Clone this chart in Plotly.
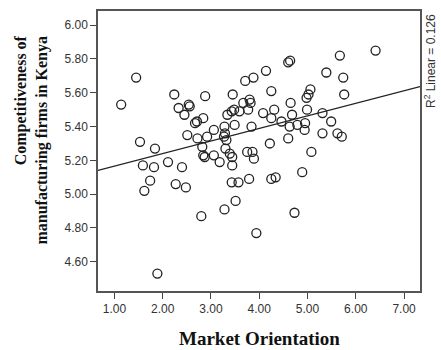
import numpy as np
import plotly.graph_objects as go

# Market Orientation (x) and Competitiveness (y)
market_orientation = [
    1.14, 1.45, 1.53, 1.84, 1.59, 1.82, 2.11, 2.40, 1.74, 1.62,
    2.27, 2.48, 1.89, 2.24, 2.88, 2.33, 2.54, 2.56, 2.45, 2.67,
    2.71, 2.84, 2.51, 2.72, 2.92, 3.06, 2.82, 2.84, 2.87, 3.06,
    3.30, 3.28, 3.29, 3.27, 3.32, 3.34, 3.45, 3.49, 3.43, 3.48,
    3.59, 3.67, 3.80, 3.82, 3.71, 3.88, 3.77, 3.84, 3.18, 3.39,
    3.44, 3.44, 3.75, 3.86, 3.89, 3.43, 3.57, 3.79, 3.51, 3.28,
    2.80, 3.94, 4.14, 4.60, 4.64, 4.25, 4.65, 4.08, 4.31, 4.25,
    4.46, 4.68, 4.63, 4.79, 4.95, 4.94, 4.60, 4.22, 5.06, 5.02,
    4.98, 4.99, 5.31, 5.49, 5.31, 5.62, 5.71, 5.08, 4.89, 4.25,
    4.34, 4.73, 6.41, 5.67, 5.39, 5.74, 5.76,
]
competitiveness = [
    5.53, 5.69, 5.31, 5.27, 5.17, 5.16, 5.19, 5.16, 5.08, 5.02,
    5.06, 5.04, 4.53, 5.59, 5.58, 5.51, 5.53, 5.52, 5.47, 5.42,
    5.43, 5.45, 5.35, 5.33, 5.34, 5.38, 5.28, 5.23, 5.22, 5.23,
    5.27, 5.40, 5.36, 5.34, 5.32, 5.47, 5.59, 5.41, 5.49, 5.50,
    5.49, 5.54, 5.56, 5.54, 5.67, 5.69, 5.50, 5.40, 5.19, 5.24,
    5.22, 5.17, 5.25, 5.25, 5.21, 5.07, 5.07, 5.09, 4.96, 4.91,
    4.87, 4.77, 5.73, 5.78, 5.79, 5.61, 5.54, 5.48, 5.50, 5.45,
    5.43, 5.47, 5.40, 5.41, 5.42, 5.38, 5.33, 5.30, 5.62, 5.59,
    5.57, 5.50, 5.48, 5.43, 5.36, 5.36, 5.34, 5.25, 5.13, 5.09,
    5.10, 4.89, 5.85, 5.82, 5.72, 5.69, 5.59,
]

x_ticks = [1, 2, 3, 4, 5, 6, 7]
x_tick_labels = ["1.00", "2.00", "3.00", "4.00", "5.00", "6.00", "7.00"]
y_ticks = [4.6, 4.8, 5.0, 5.2, 5.4, 5.6, 5.8, 6.0]
y_tick_labels = ["4.60", "4.80", "5.00", "5.20", "5.40", "5.60", "5.80", "6.00"]
x_range = [0.66, 7.33]
y_range = [4.427, 6.084]
r2_label = "R<sup>2</sup> Linear = 0.126"

xa = np.array(market_orientation)
ya = np.array(competitiveness)
slope, intercept = np.polyfit(xa, ya, 1)
line_x = np.array(x_range)
line_y = intercept + slope * line_x

fig = go.Figure()
fig.add_trace(go.Scatter(
    x=line_x, y=line_y, mode="lines",
    line=dict(color="#222222", width=1.3), hoverinfo="skip", showlegend=False,
))
fig.add_trace(go.Scatter(
    x=market_orientation, y=competitiveness, mode="markers",
    marker=dict(symbol="circle-open", size=9, color="#222222",
                line=dict(width=1.3, color="#222222")),
    showlegend=False,
))

axis_common = dict(
    showgrid=False, zeroline=False, showline=True, mirror=True,
    linecolor="#555555", linewidth=1.5, ticks="outside", ticklen=6,
    tickwidth=1.3, tickcolor="#444444",
    tickfont=dict(family="Liberation Sans, Arial, sans-serif", size=12, color="#333333"),
)
fig.update_xaxes(range=x_range, tickvals=x_ticks, ticktext=x_tick_labels, **axis_common)
fig.update_yaxes(range=y_range, tickvals=y_ticks, ticktext=y_tick_labels, **axis_common)

fig.update_layout(
    width=441, height=350,
    margin=dict(l=98, r=21, t=9, b=59),
    plot_bgcolor="white", paper_bgcolor="white",
    annotations=[
        dict(text="<b>Market Orientation</b>", xref="paper", yref="paper",
             x=0.5, y=-0.17, xanchor="center", yanchor="middle", showarrow=False,
             font=dict(family="Liberation Serif, Times New Roman, serif", size=19, color="#111111")),
        dict(text="<b>Competitiveness of<br>manufacturing firms in Kenya</b>",
             xref="paper", yref="paper", x=-0.205, y=0.541, xanchor="center",
             yanchor="middle", textangle=-90, align="right", showarrow=False,
             font=dict(family="Liberation Serif, Times New Roman, serif", size=16, color="#111111")),
        dict(text=r2_label, xref="paper", yref="paper", x=1.033, y=0.82,
             xanchor="center", yanchor="middle", textangle=-90, showarrow=False,
             font=dict(family="Liberation Sans, Arial, sans-serif", size=12, color="#333333")),
    ],
)

fig.write_html(
    "out.html",
    config={"displayModeBar": False},
    post_script="document.body.style.margin='0';document.body.style.overflow='hidden';",
)
